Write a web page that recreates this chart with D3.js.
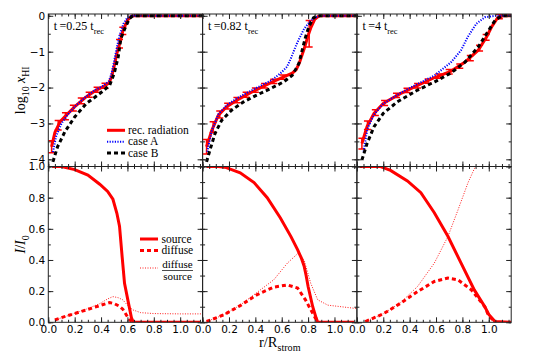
<!DOCTYPE html>
<html>
<head>
<meta charset="utf-8">
<script src="https://cdn.jsdelivr.net/npm/d3@7"></script>
<style>
  body { margin: 0; background: #fff; }
</style>
</head>
<body>
<div id="chart"></div>
<script>
// Data: [r/R_strom, value]
//==============================================
var times = ["0.25", "0.82", "4"];

// top row: log10 x_HI
var rec025 = [[0.025,-3.65],[0.05,-3.25],[0.09,-2.95],[0.15,-2.72],[0.21,-2.5],[0.28,-2.28],[0.35,-2.1],[0.42,-1.97],[0.46,-1.87],[0.48,-1.7],[0.5,-1.4],[0.52,-1.05],[0.54,-0.78],[0.565,-0.42],[0.6,-0.12],[0.63,-0.01],[0.65,0],[1.17,0]];
var caseA025 = [[0.035,-3.8],[0.06,-3.35],[0.1,-3.0],[0.15,-2.74],[0.21,-2.5],[0.28,-2.27],[0.35,-2.08],[0.42,-1.94],[0.46,-1.82],[0.48,-1.6],[0.5,-1.25],[0.52,-0.88],[0.54,-0.55],[0.57,-0.22],[0.6,-0.05],[0.63,0],[1.17,0]];
var caseB025 = [[0.035,-4.07],[0.07,-3.65],[0.126,-3.23],[0.2,-2.82],[0.29,-2.44],[0.39,-2.17],[0.465,-1.94],[0.5,-1.6],[0.53,-1.15],[0.55,-0.64],[0.58,-0.36],[0.615,-0.08],[0.64,0],[1.17,0]];
var err025 = [[0.025,-3.65,0.17],[0.075,-3.05,0.13],[0.13,-2.8,0.1],[0.19,-2.57,0.08],[0.25,-2.37,0.08],[0.31,-2.2,0.07],[0.37,-2.06,0.07],[0.43,-1.95,0.07],[0.54,-0.78,0.12],[0.565,-0.42,0.1]];

var rec082 = [[0.03,-3.65],[0.07,-3.19],[0.12,-2.77],[0.18,-2.54],[0.26,-2.35],[0.35,-2.17],[0.44,-2.0],[0.53,-1.84],[0.615,-1.7],[0.68,-1.6],[0.71,-1.5],[0.735,-1.3],[0.77,-0.92],[0.8,-0.55],[0.82,-0.34],[0.85,-0.1],[0.875,-0.02],[0.89,0],[1.17,0]];
var caseA082 = [[0.035,-3.79],[0.07,-3.2],[0.12,-2.74],[0.18,-2.5],[0.26,-2.3],[0.35,-2.12],[0.44,-1.95],[0.53,-1.78],[0.6,-1.57],[0.64,-1.42],[0.668,-1.2],[0.695,-0.95],[0.72,-0.73],[0.77,-0.36],[0.82,-0.13],[0.87,-0.02],[0.9,0],[1.17,0]];
var caseB082 = [[0.03,-4.07],[0.056,-3.74],[0.094,-3.28],[0.145,-2.91],[0.22,-2.63],[0.31,-2.4],[0.41,-2.21],[0.514,-2.03],[0.615,-1.84],[0.68,-1.66],[0.73,-1.33],[0.755,-0.96],[0.78,-0.6],[0.806,-0.3],[0.84,-0.06],[0.87,0],[1.17,0]];
var err082 = [[0.03,-3.65,0.2],[0.08,-3.1,0.15],[0.13,-2.75,0.1],[0.19,-2.52,0.08],[0.26,-2.35,0.07],[0.33,-2.2,0.07],[0.4,-2.07,0.06],[0.47,-1.95,0.06],[0.54,-1.83,0.06],[0.61,-1.71,0.06],[0.808,-0.5,0.37]];

var rec4 = [[0.038,-3.56],[0.077,-3.09],[0.13,-2.72],[0.2,-2.44],[0.33,-2.17],[0.46,-1.94],[0.59,-1.72],[0.715,-1.54],[0.82,-1.29],[0.92,-0.96],[0.983,-0.59],[1.02,-0.32],[1.07,-0.04],[1.11,0],[1.17,0]];
var caseA4 = [[0.05,-3.79],[0.08,-3.15],[0.13,-2.75],[0.2,-2.45],[0.33,-2.15],[0.46,-1.9],[0.59,-1.66],[0.715,-1.29],[0.79,-0.96],[0.84,-0.59],[0.906,-0.22],[0.97,-0.04],[1.05,0],[1.17,0]];
var caseB4 = [[0.038,-4.02],[0.077,-3.56],[0.13,-3.09],[0.2,-2.72],[0.306,-2.4],[0.46,-2.07],[0.59,-1.84],[0.715,-1.59],[0.82,-1.29],[0.92,-0.87],[0.983,-0.5],[1.047,-0.13],[1.1,0],[1.17,0]];
var err4 = [[0.038,-3.56,0.15],[0.08,-3.05,0.12],[0.14,-2.7,0.08],[0.21,-2.43,0.07],[0.3,-2.22,0.06],[0.38,-2.08,0.06],[0.46,-1.95,0.06],[0.54,-1.82,0.06],[0.62,-1.68,0.06],[0.7,-1.56,0.06],[0.78,-1.4,0.06],[0.86,-1.18,0.07],[0.93,-0.9,0.08],[0.98,-0.6,0.08],[1.08,-0.02,0.06]];

// bottom row: I/I0
var source025 = [[0.03,1.0],[0.1,1.0],[0.2,0.98],[0.3,0.945],[0.39,0.886],[0.45,0.84],[0.49,0.79],[0.52,0.7],[0.54,0.617],[0.56,0.42],[0.578,0.25],[0.603,0.144],[0.63,0.03],[0.645,0],[1.15,0]];
var diffuse025 = [[0.05,0.015],[0.1,0.03],[0.164,0.047],[0.29,0.08],[0.39,0.107],[0.465,0.127],[0.5,0.12],[0.535,0.105],[0.565,0.084],[0.6,0.036],[0.63,0.003],[0.65,0]];
var ratio025 = [[0.05,0.015],[0.164,0.047],[0.29,0.085],[0.39,0.12],[0.45,0.15],[0.49,0.165],[0.53,0.158],[0.565,0.144],[0.6,0.11],[0.64,0.08],[0.7,0.062],[0.8,0.056],[1.0,0.054],[1.17,0.054]];

var source082 = [[0.03,1.0],[0.12,1.0],[0.18,0.993],[0.285,0.96],[0.39,0.897],[0.49,0.8],[0.59,0.67],[0.67,0.55],[0.72,0.466],[0.75,0.41],[0.77,0.36],[0.785,0.3],[0.8,0.23],[0.835,0.1],[0.86,0.03],[0.873,0],[1.15,0]];
var diffuse082 = [[0.03,0.005],[0.158,0.047],[0.285,0.107],[0.41,0.176],[0.54,0.226],[0.643,0.24],[0.72,0.22],[0.78,0.144],[0.835,0.058],[0.873,0]];
var ratio082 = [[0.03,0.005],[0.158,0.047],[0.285,0.11],[0.41,0.19],[0.54,0.273],[0.643,0.38],[0.72,0.44],[0.77,0.4],[0.82,0.25],[0.873,0.144],[0.95,0.11],[1.05,0.1],[1.15,0.09],[1.17,0.09]];

var source4 = [[0.02,1.0],[0.18,1.0],[0.21,0.99],[0.255,0.975],[0.383,0.907],[0.485,0.832],[0.587,0.703],[0.69,0.552],[0.79,0.38],[0.89,0.208],[0.97,0.1],[1.0,0.05],[1.047,0.005],[1.17,0]];
var diffuse4 = [[0.064,0.005],[0.2,0.054],[0.33,0.122],[0.46,0.197],[0.587,0.262],[0.69,0.284],[0.766,0.273],[0.868,0.208],[0.97,0.1],[1.0,0.04],[1.05,0]];
var ratio4 = [[0.064,0.005],[0.2,0.055],[0.33,0.125],[0.46,0.23],[0.587,0.38],[0.69,0.55],[0.766,0.72],[0.843,0.897],[0.893,0.99],[0.91,1.04]];

var topSeries = [
  {rec: rec025, caseA: caseA025, caseB: caseB025, err: err025},
  {rec: rec082, caseA: caseA082, caseB: caseB082, err: err082},
  {rec: rec4, caseA: caseA4, caseB: caseB4, err: err4}
];
var botSeries = [
  {source: source025, diffuse: diffuse025, ratio: ratio025},
  {source: source082, diffuse: diffuse082, ratio: ratio082},
  {source: source4, diffuse: diffuse4, ratio: ratio4}
];

// Set up the chart
//=================================
var svgWidth = 538, svgHeight = 357;
var panelLeft = 48.3, panelW = 154.3;
var topY = 14, midY = 166.5, botY = 322.3;
var serif = "Liberation Serif, Times New Roman, serif";
var sans = "DejaVu Sans, sans-serif";

var svg = d3.select("#chart").append("svg")
  .attr("width", svgWidth)
  .attr("height", svgHeight);

var x = d3.scaleLinear().domain([0, 1.17]).range([0, panelW]);
var yTop = d3.scaleLinear().domain([-4.2, 0.05]).range([midY - topY, 0]);
var yBot = d3.scaleLinear().domain([0, 1]).range([botY - midY, 0]);

var xMajor = [0, 0.2, 0.4, 0.6, 0.8, 1.0];
var xMinor = d3.range(0, 24).map(d => d * 0.05);

// helper for text with sub-scripts / italics
function richText(sel, parts, size) {
  var shift = 0;
  parts.forEach(function(p) {
    var ts = sel.append("tspan").text(p.t);
    var target = p.sub ? size * 0.3 : 0;
    if (target !== shift) { ts.attr("dy", target - shift); shift = target; }
    if (p.sub) ts.attr("font-size", size * 0.7);
    if (p.it) ts.attr("font-style", "italic");
  });
}

// ticks on four sides, pointing in
function drawFrame(g, y, h, yMajor, yMinor, yFmt, showY, showX) {
  function strip(a) { a.select(".domain").remove(); a.selectAll("line").attr("stroke", "#222"); }
  g.append("g").attr("transform", `translate(0,${h})`)
    .call(d3.axisBottom(x).tickValues(xMinor).tickSize(-2.5).tickFormat("")).call(strip);
  g.append("g")
    .call(d3.axisTop(x).tickValues(xMinor).tickSize(-2.5).tickFormat("")).call(strip);
  g.append("g").call(d3.axisTop(x).tickValues(xMajor).tickSize(-5).tickFormat("")).call(strip);
  g.append("g").attr("transform", `translate(0,${h})`)
    .call(d3.axisBottom(x).tickValues(xMajor).tickSize(-5).tickPadding(3)
      .tickFormat(showX ? d3.format(".1f") : ""))
    .call(strip)
    .attr("font-family", sans).attr("font-size", 10.5);

  g.append("g").call(d3.axisLeft(y).tickValues(yMinor).tickSize(-2.5).tickFormat("")).call(strip);
  g.append("g").attr("transform", `translate(${panelW},0)`)
    .call(d3.axisRight(y).tickValues(yMinor).tickSize(-2.5).tickFormat("")).call(strip);
  g.append("g").attr("transform", `translate(${panelW},0)`)
    .call(d3.axisRight(y).tickValues(yMajor).tickSize(-5).tickFormat("")).call(strip);
  g.append("g")
    .call(d3.axisLeft(y).tickValues(yMajor).tickSize(-5).tickPadding(3).tickFormat(showY ? yFmt : ""))
    .call(strip)
    .attr("font-family", sans).attr("font-size", 10.5);

  g.append("rect").attr("width", panelW).attr("height", h)
    .attr("fill", "none").attr("stroke", "#222").attr("stroke-width", 1);
}

var lineTop = d3.line().x(d => x(d[0])).y(d => yTop(d[1]));
var lineBot = d3.line().x(d => x(d[0])).y(d => yBot(d[1]));

topSeries.forEach(function(s, i) {
  var px = panelLeft + i * panelW;
  var hT = midY - topY, hB = botY - midY;

  // clip paths
  svg.append("clipPath").attr("id", "clipT" + i)
    .append("rect").attr("width", panelW).attr("height", hT);
  svg.append("clipPath").attr("id", "clipB" + i)
    .append("rect").attr("width", panelW).attr("height", hB);

  // top panel
  var gT = svg.append("g").attr("transform", `translate(${px},${topY})`);
  var cT = gT.append("g").attr("clip-path", `url(#clipT${i})`);
  cT.append("path").datum(s.rec).attr("d", lineTop)
    .attr("fill", "none").attr("stroke", "red").attr("stroke-width", 3);
  var eb = cT.selectAll(".err").data(s.err).enter().append("g");
  eb.append("line")
    .attr("x1", d => x(d[0])).attr("x2", d => x(d[0]))
    .attr("y1", d => yTop(d[1] - d[2])).attr("y2", d => yTop(d[1] + d[2]))
    .attr("stroke", "red").attr("stroke-width", 1.5);
  eb.selectAll(".cap").data(d => [[d[0], d[1] - d[2]], [d[0], d[1] + d[2]]]).enter()
    .append("line")
    .attr("x1", d => x(d[0]) - 3.5).attr("x2", d => x(d[0]) + 3.5)
    .attr("y1", d => yTop(d[1])).attr("y2", d => yTop(d[1]))
    .attr("stroke", "red").attr("stroke-width", 1.5);
  cT.append("path").datum(s.caseA).attr("d", lineTop)
    .attr("fill", "none").attr("stroke", "blue").attr("stroke-width", 2)
    .attr("stroke-dasharray", "1.2,1.4");
  cT.append("path").datum(s.caseB).attr("d", lineTop)
    .attr("fill", "none").attr("stroke", "black").attr("stroke-width", 3)
    .attr("stroke-dasharray", "4,3");
  drawFrame(gT, yTop, hT, [0, -1, -2, -3, -4], d3.range(0, 9).map(d => -d * 0.5), d3.format("d"), i === 0, false);

  var ann = gT.append("text").attr("x", 5.5).attr("y", 16)
    .attr("font-family", serif).attr("font-size", 12);
  richText(ann, [{t: "t\u2009=" + times[i] + " t"}, {t: "rec", sub: true}], 12);

  // bottom panel
  var b = botSeries[i];
  var gB = svg.append("g").attr("transform", `translate(${px},${midY})`);
  var cB = gB.append("g").attr("clip-path", `url(#clipB${i})`);
  cB.append("path").datum(b.ratio).attr("d", lineBot)
    .attr("fill", "none").attr("stroke", "red").attr("stroke-width", 0.9)
    .attr("stroke-dasharray", "1,1.5");
  cB.append("path").datum(b.source).attr("d", lineBot)
    .attr("fill", "none").attr("stroke", "red").attr("stroke-width", 3);
  cB.append("path").datum(b.diffuse).attr("d", lineBot)
    .attr("fill", "none").attr("stroke", "red").attr("stroke-width", 3)
    .attr("stroke-dasharray", "4,3");
  drawFrame(gB, yBot, hB, [0, 0.2, 0.4, 0.6, 0.8, 1.0], d3.range(0, 11).map(d => d * 0.1), d3.format(".1f"), i === 0, true);
});

// Legends
//=================================
var legTop = svg.append("g").attr("font-family", serif).attr("font-size", 11.5);
var legItems = [
  {label: "rec. radiation", color: "red", w: 3, dash: null},
  {label: "case A", color: "blue", w: 2, dash: "1.2,1.4"},
  {label: "case B", color: "black", w: 3, dash: "4,3"}
];
legItems.forEach(function(d, k) {
  var yy = 130.3 + k * 11.4;
  legTop.append("line").attr("x1", 107).attr("x2", 125).attr("y1", yy).attr("y2", yy)
    .attr("stroke", d.color).attr("stroke-width", d.w).attr("stroke-dasharray", d.dash);
  legTop.append("text").attr("x", 128).attr("y", yy + 3.6).text(d.label);
});

var legBot = svg.append("g").attr("font-family", serif).attr("font-size", 11.5);
legBot.append("line").attr("x1", 140).attr("x2", 158).attr("y1", 239).attr("y2", 239)
  .attr("stroke", "red").attr("stroke-width", 3);
legBot.append("text").attr("x", 161.5).attr("y", 242.6).text("source");
legBot.append("line").attr("x1", 140).attr("x2", 158).attr("y1", 250.5).attr("y2", 250.5)
  .attr("stroke", "red").attr("stroke-width", 3).attr("stroke-dasharray", "4,3");
legBot.append("text").attr("x", 161.5).attr("y", 254.1).text("diffuse");
legBot.append("line").attr("x1", 140).attr("x2", 158).attr("y1", 268).attr("y2", 268)
  .attr("stroke", "red").attr("stroke-width", 0.9).attr("stroke-dasharray", "1,1.5");
legBot.append("text").attr("x", 177.5).attr("y", 267.5).attr("text-anchor", "middle")
  .attr("font-size", 11).text("diffuse");
legBot.append("line").attr("x1", 162).attr("x2", 193).attr("y1", 270.5).attr("y2", 270.5)
  .attr("stroke", "black").attr("stroke-width", 0.7);
legBot.append("text").attr("x", 177.5).attr("y", 279.5).attr("text-anchor", "middle")
  .attr("font-size", 11).text("source");

// Axis labels
//=================================
var yl1 = svg.append("text").attr("transform", `translate(25,${(topY + midY) / 2}) rotate(-90)`)
  .attr("text-anchor", "middle").attr("font-family", serif).attr("font-size", 14);
richText(yl1, [{t: "log"}, {t: "10", sub: true}, {t: " "}, {t: "x", it: true}, {t: "HI", sub: true}], 14);

var yl2 = svg.append("text").attr("transform", `translate(25,${(midY + botY) / 2}) rotate(-90)`)
  .attr("text-anchor", "middle").attr("font-family", serif).attr("font-size", 14);
richText(yl2, [{t: "I", it: true}, {t: "/"}, {t: "I", it: true}, {t: "0", sub: true}], 14);

var xl = svg.append("text").attr("x", panelLeft + 1.5 * panelW).attr("y", 347)
  .attr("text-anchor", "middle").attr("font-family", serif).attr("font-size", 14.5);
richText(xl, [{t: "r/R"}, {t: "strom", sub: true}], 14.5);
</script>
</body>
</html>
